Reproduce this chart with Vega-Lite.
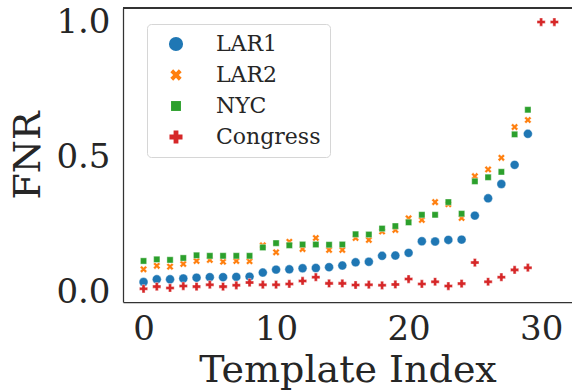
{
  "$schema": "https://vega.github.io/schema/vega-lite/v6.json",
  "width": 449,
  "height": 294,
  "autosize": {"type": "none"},
  "padding": {"left": 123, "top": 8, "right": 0, "bottom": 89},
  "background": "white",
  "config": {
    "view": {"stroke": null},
    "font": "DejaVu Serif",
    "axis": {
      "grid": false, "ticks": false, "tickSize": 0,
      "domainColor": "#333333", "domainWidth": 1.25,
      "labelFont": "DejaVu Serif", "labelFontSize": 34, "labelColor": "#262626",
      "titleFont": "DejaVu Serif", "titleFontSize": 38, "titleFontWeight": "normal", "titleColor": "#262626"
    },
    "legend": {
      "orient": "none", "legendX": 24, "legendY": 16,
      "padding": 9, "cornerRadius": 4, "strokeColor": "#d6d6d6", "fillColor": "white",
      "symbolOffset": 9, "labelOffset": 29, "symbolSize": 200, "symbolStrokeWidth": 0,
      "labelFont": "DejaVu Serif", "labelFontSize": 22, "labelColor": "#262626",
      "rowPadding": 9
    }
  },
  "data": {"values": [
    {"i":0,"s":"LAR1","v":0.037},{"i":1,"s":"LAR1","v":0.047},{"i":2,"s":"LAR1","v":0.047},{"i":3,"s":"LAR1","v":0.050},{"i":4,"s":"LAR1","v":0.053},{"i":5,"s":"LAR1","v":0.055},{"i":6,"s":"LAR1","v":0.055},{"i":7,"s":"LAR1","v":0.056},{"i":8,"s":"LAR1","v":0.057},{"i":9,"s":"LAR1","v":0.072},{"i":10,"s":"LAR1","v":0.083},{"i":11,"s":"LAR1","v":0.084},{"i":12,"s":"LAR1","v":0.088},{"i":13,"s":"LAR1","v":0.089},{"i":14,"s":"LAR1","v":0.092},{"i":15,"s":"LAR1","v":0.098},{"i":16,"s":"LAR1","v":0.110},{"i":17,"s":"LAR1","v":0.112},{"i":18,"s":"LAR1","v":0.134},{"i":19,"s":"LAR1","v":0.135},{"i":20,"s":"LAR1","v":0.145},{"i":21,"s":"LAR1","v":0.188},{"i":22,"s":"LAR1","v":0.187},{"i":23,"s":"LAR1","v":0.193},{"i":24,"s":"LAR1","v":0.194},{"i":25,"s":"LAR1","v":0.283},{"i":26,"s":"LAR1","v":0.347},{"i":27,"s":"LAR1","v":0.400},{"i":28,"s":"LAR1","v":0.471},{"i":29,"s":"LAR1","v":0.586},
    {"i":0,"s":"LAR2","v":0.084},{"i":1,"s":"LAR2","v":0.097},{"i":2,"s":"LAR2","v":0.094},{"i":3,"s":"LAR2","v":0.104},{"i":4,"s":"LAR2","v":0.115},{"i":5,"s":"LAR2","v":0.119},{"i":6,"s":"LAR2","v":0.112},{"i":7,"s":"LAR2","v":0.115},{"i":8,"s":"LAR2","v":0.114},{"i":9,"s":"LAR2","v":0.173},{"i":10,"s":"LAR2","v":0.147},{"i":11,"s":"LAR2","v":0.186},{"i":12,"s":"LAR2","v":0.159},{"i":13,"s":"LAR2","v":0.200},{"i":14,"s":"LAR2","v":0.156},{"i":15,"s":"LAR2","v":0.156},{"i":16,"s":"LAR2","v":0.200},{"i":17,"s":"LAR2","v":0.193},{"i":18,"s":"LAR2","v":0.224},{"i":19,"s":"LAR2","v":0.230},{"i":20,"s":"LAR2","v":0.273},{"i":21,"s":"LAR2","v":0.267},{"i":22,"s":"LAR2","v":0.333},{"i":23,"s":"LAR2","v":0.325},{"i":24,"s":"LAR2","v":0.274},{"i":25,"s":"LAR2","v":0.429},{"i":26,"s":"LAR2","v":0.454},{"i":27,"s":"LAR2","v":0.497},{"i":28,"s":"LAR2","v":0.611},{"i":29,"s":"LAR2","v":0.637},
    {"i":0,"s":"NYC","v":0.115},{"i":1,"s":"NYC","v":0.121},{"i":2,"s":"NYC","v":0.119},{"i":3,"s":"NYC","v":0.126},{"i":4,"s":"NYC","v":0.136},{"i":5,"s":"NYC","v":0.134},{"i":6,"s":"NYC","v":0.134},{"i":7,"s":"NYC","v":0.134},{"i":8,"s":"NYC","v":0.134},{"i":9,"s":"NYC","v":0.165},{"i":10,"s":"NYC","v":0.181},{"i":11,"s":"NYC","v":0.173},{"i":12,"s":"NYC","v":0.176},{"i":13,"s":"NYC","v":0.176},{"i":14,"s":"NYC","v":0.175},{"i":15,"s":"NYC","v":0.176},{"i":16,"s":"NYC","v":0.214},{"i":17,"s":"NYC","v":0.213},{"i":18,"s":"NYC","v":0.235},{"i":19,"s":"NYC","v":0.244},{"i":20,"s":"NYC","v":0.258},{"i":21,"s":"NYC","v":0.286},{"i":22,"s":"NYC","v":0.286},{"i":23,"s":"NYC","v":0.333},{"i":24,"s":"NYC","v":0.290},{"i":25,"s":"NYC","v":0.410},{"i":26,"s":"NYC","v":0.425},{"i":27,"s":"NYC","v":0.445},{"i":28,"s":"NYC","v":0.584},{"i":29,"s":"NYC","v":0.675},
    {"i":0,"s":"Congress","v":0.012},{"i":1,"s":"Congress","v":0.020},{"i":2,"s":"Congress","v":0.015},{"i":3,"s":"Congress","v":0.022},{"i":4,"s":"Congress","v":0.020},{"i":5,"s":"Congress","v":0.027},{"i":6,"s":"Congress","v":0.020},{"i":7,"s":"Congress","v":0.025},{"i":8,"s":"Congress","v":0.035},{"i":9,"s":"Congress","v":0.027},{"i":10,"s":"Congress","v":0.027},{"i":11,"s":"Congress","v":0.030},{"i":12,"s":"Congress","v":0.041},{"i":13,"s":"Congress","v":0.055},{"i":14,"s":"Congress","v":0.032},{"i":15,"s":"Congress","v":0.032},{"i":16,"s":"Congress","v":0.026},{"i":17,"s":"Congress","v":0.027},{"i":18,"s":"Congress","v":0.025},{"i":19,"s":"Congress","v":0.028},{"i":20,"s":"Congress","v":0.048},{"i":21,"s":"Congress","v":0.030},{"i":22,"s":"Congress","v":0.038},{"i":23,"s":"Congress","v":0.022},{"i":24,"s":"Congress","v":0.031},{"i":25,"s":"Congress","v":0.109},{"i":26,"s":"Congress","v":0.038},{"i":27,"s":"Congress","v":0.055},{"i":28,"s":"Congress","v":0.082},{"i":29,"s":"Congress","v":0.090},{"i":30,"s":"Congress","v":1.0},{"i":31,"s":"Congress","v":1.0}
  ]},
  "layer": [
    {
      "mark": {"type": "point", "filled": true, "opacity": 1, "stroke": "white", "strokeWidth": 0.4, "size": 80},
      "encoding": {
        "x": {"field": "i", "type": "quantitative", "title": "Template Index",
              "scale": {"domain": [-1.55, 32.33], "nice": false, "zero": false},
              "axis": {"values": [0, 10, 20, 30], "labelPadding": 10, "titlePadding": 5, "labelFlush": false}},
        "y": {"field": "v", "type": "quantitative", "title": "FNR",
              "scale": {"domain": [-0.037, 1.052], "nice": false, "zero": false},
              "axis": {"values": [0, 0.5, 1.0], "format": ".1f", "labelPadding": 13, "titlePadding": 8, "labelFlush": false}},
        "color": {"field": "s", "type": "nominal", "title": null,
                  "scale": {"domain": ["LAR1", "LAR2", "NYC", "Congress"], "range": ["#1f77b4", "#ff7f0e", "#2ca02c", "#d62728"]}},
        "shape": {"field": "s", "type": "nominal", "title": null,
                  "scale": {"domain": ["LAR1", "LAR2", "NYC", "Congress"],
                            "range": ["circle", "M-0.4,-0.8L0,-0.4L0.4,-0.8L0.8,-0.4L0.4,0L0.8,0.4L0.4,0.8L0,0.4L-0.4,0.8L-0.8,0.4L-0.4,0L-0.8,-0.4Z", "M-0.7,-0.7H0.7V0.7H-0.7Z", "M-0.34,-0.92H0.34V-0.34H0.92V0.34H0.34V0.92H-0.34V0.34H-0.92V-0.34H-0.34Z"]}}
      }
    },
    {
      "mark": {"type": "rule", "color": "#333333", "strokeWidth": 1.25},
      "encoding": {"y": {"datum": 1.052, "type": "quantitative"}}
    }
  ]
}
